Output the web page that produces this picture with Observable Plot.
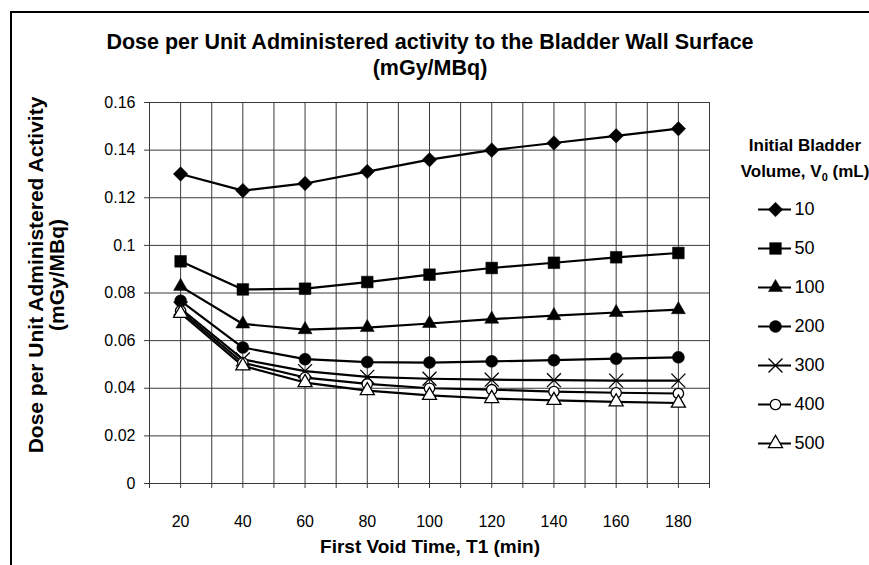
<!DOCTYPE html>
<html><head><meta charset="utf-8">
<script src="https://cdn.jsdelivr.net/npm/d3@7"></script>
<script src="https://cdn.jsdelivr.net/npm/@observablehq/plot@0.6"></script>
<style>
body{margin:0;background:#fff;font-family:"Liberation Sans",Arial,sans-serif;color:#000;}
#wrap{position:relative;width:869px;height:565px;overflow:hidden;background:#fff;}
#frame{position:absolute;left:10px;top:11px;width:880px;height:600px;border-left:2px solid #000;border-top:2px solid #000;}
.abs{position:absolute;white-space:nowrap;}
#title{left:0;width:860px;top:29px;text-align:center;font-weight:bold;font-size:21.5px;line-height:26px;}
#xtitle{left:0;width:860px;top:536px;text-align:center;font-weight:bold;font-size:19px;line-height:22px;}
#ytitle{left:46px;top:275px;transform:translate(-50%,-50%) rotate(-90deg);text-align:center;font-weight:bold;font-size:21px;line-height:21px;}
#ltitle{left:735px;width:140px;top:133px;text-align:center;font-weight:bold;font-size:17px;line-height:26px;}
#chart{position:absolute;left:0;top:0;}
#legend{position:absolute;left:752px;top:189px;}
</style></head>
<body>
<div id="wrap">
  <div id="frame"></div>
  <div id="chart"></div>
  <div id="legend"></div>
  <div class="abs" id="title">Dose per Unit Administered activity to the Bladder Wall Surface<br>(mGy/MBq)</div>
  <div class="abs" id="ytitle">Dose per Unit Administered Activity<br>(mGy/MBq)</div>
  <div class="abs" id="xtitle">First Void Time, T1 (min)</div>
  <div class="abs" id="ltitle">Initial Bladder<br>Volume, V<sub style="font-size:11px">0</sub> (mL)</div>
</div>
<script>
// ---- data ----
const firstVoidTime = [20, 40, 60, 80, 100, 120, 140, 160, 180];
const seriesNames = ["10", "50", "100", "200", "300", "400", "500"];
const v10  = [0.130, 0.123, 0.126, 0.131, 0.136, 0.140, 0.143, 0.146, 0.149];
const v50  = [0.0933, 0.0815, 0.0818, 0.0846, 0.0877, 0.0905, 0.0927, 0.0950, 0.0968];
const v100 = [0.0828, 0.0670, 0.0646, 0.0655, 0.0672, 0.0690, 0.0705, 0.0718, 0.0730];
const v200 = [0.0767, 0.0571, 0.0522, 0.0510, 0.0508, 0.0513, 0.0518, 0.0524, 0.0530];
const v300 = [0.0735, 0.0521, 0.0472, 0.0448, 0.0440, 0.0436, 0.0434, 0.0432, 0.0432];
const v400 = [0.0725, 0.0507, 0.0445, 0.0418, 0.0400, 0.0394, 0.0386, 0.0381, 0.0378];
const v500 = [0.0715, 0.0494, 0.0424, 0.0390, 0.0370, 0.0357, 0.0349, 0.0343, 0.0338];
const xTickLabels = [20, 40, 60, 80, 100, 120, 140, 160, 180];
const xGrid = [10, 20, 30, 40, 50, 60, 70, 80, 90, 100, 110, 120, 130, 140, 150, 160, 170, 180, 190];
const yTicks = [0, 0.02, 0.04, 0.06, 0.08, 0.1, 0.12, 0.14, 0.16];

const allValues = [v10, v50, v100, v200, v300, v400, v500];

// ---- marker styles ----
const diamondSym = {draw(ctx, size){ const r = Math.sqrt(size/2); ctx.moveTo(0,-r); ctx.lineTo(r,0); ctx.lineTo(0,r); ctx.lineTo(-r,0); ctx.closePath(); }};
const styles = {
  "10":  {symbol: diamondSym, fill: "black", r: 5.8},
  "50":  {symbol: "square", fill: "black", r: 6.6},
  "100": {symbol: "triangle", fill: "black", r: 5.2},
  "200": {symbol: "circle", fill: "black", r: 6.0},
  "300": {symbol: "times", fill: "none", r: 6.4},
  "400": {symbol: "circle", fill: "white", r: 5.2},
  "500": {symbol: "triangle", fill: "white", r: 5.2}
};

const data = [];
seriesNames.forEach((s, i) => firstVoidTime.forEach((t, j) => data.push({series: s, t, v: allValues[i][j]})));

const grid = "#3a3a3a";
const marks = [
  Plot.ruleY(yTicks, {stroke: grid, strokeWidth: 1}),
  Plot.ruleX(xGrid, {stroke: grid, strokeWidth: 1}),
  Plot.axisY({ticks: yTicks, tickSize: 5, tickPadding: 9, fontSize: 16, stroke: grid, label: null,
    tickFormat: d => String(+d.toFixed(2))}),
  Plot.axisX({ticks: xGrid, tickSize: 5, tickPadding: 27, fontSize: 16, stroke: grid, label: null,
    tickFormat: d => xTickLabels.includes(d) ? String(d) : ""}),
  Plot.line(data, {x: "t", y: "v", z: "series", stroke: "black", strokeWidth: 2.2})
];
seriesNames.forEach(s => {
  const st = styles[s];
  marks.push(Plot.dot(data.filter(d => d.series === s), {x: "t", y: "v", symbol: () => st.symbol, r: st.r,
    fill: st.fill, stroke: "black", strokeWidth: st.fill === "black" ? 0.5 : 1.3}));
});

const chart = Plot.plot({
  width: 869, height: 565,
  marginLeft: 149, marginRight: 160, marginTop: 102, marginBottom: 82,
  style: {fontFamily: '"Liberation Sans", Arial, sans-serif', color: "#000", background: "transparent"},
  x: {domain: [10, 190], axis: null, label: null},
  y: {domain: [0, 0.16], axis: null, label: null},
  symbol: {type: "identity"},
  marks
});
document.getElementById("chart").appendChild(chart);

// ---- legend ----
const legendData = seriesNames.map(s => ({series: s}));
const lmarks = [
  Plot.ruleY(legendData, {y: "series", x1: 6, x2: 39, stroke: "black", strokeWidth: 2.2}),
  Plot.text(legendData, {y: "series", x: 42, text: "series", textAnchor: "start", fontSize: 18, fill: "black"})
];
seriesNames.forEach(s => {
  const st = styles[s];
  lmarks.push(Plot.dot(legendData.filter(d => d.series === s), {y: "series", x: 23, symbol: () => st.symbol, r: st.r,
    fill: st.fill, stroke: "black", strokeWidth: st.fill === "black" ? 0.5 : 1.3}));
});
const legend = Plot.plot({
  width: 117, height: 280,
  marginLeft: 0, marginRight: 0, marginTop: 18, marginBottom: 24,
  style: {fontFamily: '"Liberation Sans", Arial, sans-serif', background: "transparent"},
  x: {domain: [0, 117], range: [0, 117], axis: null, label: null},
  y: {type: "point", domain: seriesNames, padding: 0, axis: null, label: null},
  symbol: {type: "identity"},
  marks: lmarks
});
document.getElementById("legend").appendChild(legend);
</script>
</body></html>
